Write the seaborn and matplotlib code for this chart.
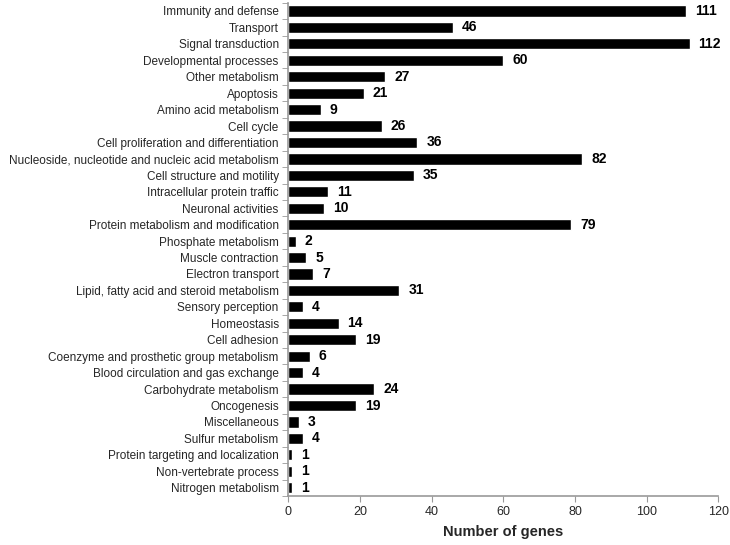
import numpy as np
import pandas as pd
import matplotlib
matplotlib.use("Agg")
import matplotlib.pyplot as plt
import seaborn as sns

categories = [
    "Immunity and defense", "Transport", "Signal transduction",
    "Developmental processes", "Other metabolism", "Apoptosis",
    "Amino acid metabolism", "Cell cycle", "Cell proliferation and differentiation",
    "Nucleoside, nucleotide and nucleic acid metabolism", "Cell structure and motility",
    "Intracellular protein traffic", "Neuronal activities",
    "Protein metabolism and modification", "Phosphate metabolism",
    "Muscle contraction", "Electron transport",
    "Lipid, fatty acid and steroid metabolism", "Sensory perception",
    "Homeostasis", "Cell adhesion", "Coenzyme and prosthetic group metabolism",
    "Blood circulation and gas exchange", "Carbohydrate metabolism",
    "Oncogenesis", "Miscellaneous", "Sulfur metabolism",
    "Protein targeting and localization", "Non-vertebrate process",
    "Nitrogen metabolism",
]
counts = [111, 46, 112, 60, 27, 21, 9, 26, 36, 82, 35, 11, 10, 79, 2,
          5, 7, 31, 4, 14, 19, 6, 4, 24, 19, 3, 4, 1, 1, 1]

df = pd.DataFrame({"Category": categories, "Genes": counts})

sns.set_style("white")
plt.rcParams["font.family"] = ["Liberation Sans", "DejaVu Sans"]

fig = plt.figure(figsize=(7.3, 5.45), dpi=100)
ax = fig.add_axes([0.395, 0.09, 0.589, 0.905])

sns.barplot(data=df, x="Genes", y="Category", color="black", width=0.68,
            saturation=1, ax=ax, orient="h")

for i, v in enumerate(counts):
    ax.text(v + 2.5, i, str(v), va="center", ha="left", fontsize=10,
            fontweight="bold", color="black")

ax.set_xlim(0, 120)
ax.set_ylim(len(categories) - 0.5, -0.5)
ax.set_xticks(range(0, 121, 20))
ax.set_xlabel("Number of genes", fontsize=10.5, fontweight="bold", labelpad=5)
ax.set_ylabel("")

# tick marks between categories, labels centered
ax.set_yticks(np.arange(len(categories)))
ax.set_yticklabels(categories, fontsize=8.5)
ax.set_yticks(np.arange(-0.5, len(categories)), minor=True)
ax.tick_params(axis="y", which="major", length=0, pad=7)
ax.tick_params(axis="y", which="minor", length=4, color="#999999", left=True)
ax.tick_params(axis="x", length=4, color="#999999", labelsize=9, bottom=True, pad=3)

for side in ["top", "right"]:
    ax.spines[side].set_visible(False)
for side in ["left", "bottom"]:
    ax.spines[side].set_color("#999999")
    ax.spines[side].set_linewidth(1.2)

plt.savefig("out.png", dpi=100)
